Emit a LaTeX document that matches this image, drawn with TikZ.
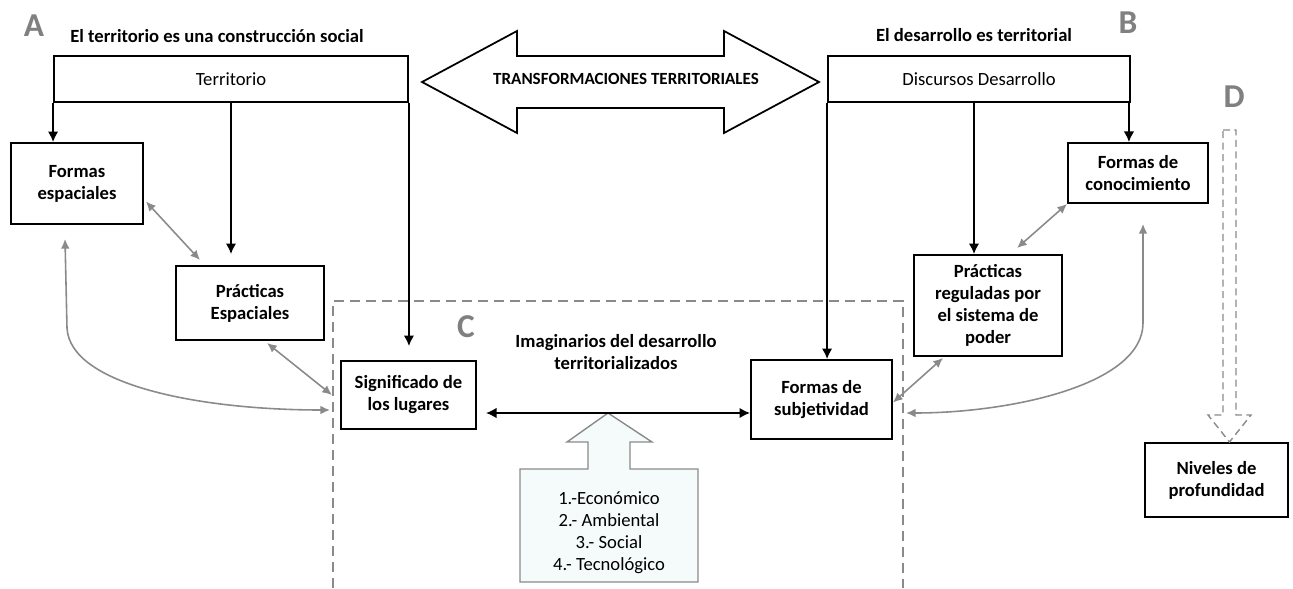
\documentclass[tikz,border=0pt]{standalone}
\usepackage{fontspec}
\setmainfont{Carlito}
\usetikzlibrary{arrows.meta}

\definecolor{arrgray}{HTML}{8A8A8A}
\definecolor{lettergray}{HTML}{808080}
\definecolor{listfill}{HTML}{F5FBFB}

\begin{document}
\begin{tikzpicture}[x=0.02cm, y=-0.02cm,
  box/.style={draw, line width=1.1pt, align=center, inner sep=0pt, font=\boxfont},
  plain/.style={align=center, inner sep=0pt, font=\boxfont},
  letter/.style={inner sep=0pt, text=lettergray, font=\fontsize{19}{19}\selectfont\bfseries},
  down/.style={-{Latex[length=6pt,width=6pt]}, line width=1pt},
  both/.style={{Latex[length=6pt,width=6pt]}-{Latex[length=6pt,width=6pt]}, line width=1pt},
  link/.style={{Latex[length=5.5pt,width=5pt]}-{Latex[length=5.5pt,width=5pt]}, draw=arrgray, line width=0.9pt},
  cbox/.style={draw=arrgray, line width=1.2pt, dash pattern=on 5.7pt off 3.4pt}]

  % Fonts used in the picture
  \def\boxfont{\fontsize{10.6}{12.5}\selectfont\bfseries}
  \def\regfont{\fontsize{10.6}{12.5}\selectfont}

  \useasboundingbox (0,0) rectangle (1293,588);

  % Panel C (dashed, open at the bottom)
  \draw[cbox] (333,588) -- (333,301) -- (903,301) -- (903,588);

  % Letters of the panels
  \node[letter] (letA) at (34,26) {A};
  \node[letter] (letB) at (1128,23) {B};
  \node[letter] (letC) at (466,327) {C};
  \node[letter] (letD) at (1234,97) {D};

  % Titles
  \node[plain] (titA) at (217,36) {El territorio es una construcción social};
  \node[plain] (titB) at (974,35) {El desarrollo es territorial};
  \node[plain] (titC) at (616,352) {Imaginarios del desarrollo\\territorializados};

  % Big double arrow between both sides
  \draw[line width=1pt, fill=white] (422,82) -- (517,31) -- (517,56) -- (724,56) -- (724,31)
    -- (819,82) -- (724,133) -- (724,108) -- (517,108) -- (517,133) -- cycle;
  \node[plain, font=\fontsize{9.7}{11}\selectfont\bfseries] (trans) at (626,79) {TRANSFORMACIONES TERRITORIALES};

  % Side A
  \node[box, font=\regfont, minimum width=7.08cm, minimum height=0.92cm] (terr) at (231,79) {Territorio};
  \node[box, minimum width=2.64cm, minimum height=1.62cm] (formesp) at (77,183.5) {Formas\\espaciales};
  \node[box, minimum width=2.96cm, minimum height=1.48cm] (pracesp) at (250,303) {Prácticas\\Espaciales};
  \node[box, minimum width=2.7cm, minimum height=1.36cm] (sig) at (408.5,395) {Significado de\\los lugares};

  % Side B
  \node[box, font=\regfont, minimum width=6.04cm, minimum height=0.92cm] (disc) at (979,79) {Discursos Desarrollo};
  \node[box, minimum width=2.8cm, minimum height=1.2cm] (formcon) at (1138,173) {Formas de\\conocimiento};
  \node[box, minimum width=2.96cm, minimum height=2.02cm] (pracreg) at (988,305.5) {Prácticas\\reguladas por\\el sistema de\\poder};
  \node[box, minimum width=2.82cm, minimum height=1.58cm] (subj) at (821.5,399.5) {Formas de\\subjetividad};

  % Side D
  \node[box, minimum width=2.86cm, minimum height=1.48cm] (niv) at (1216.5,480) {Niveles de\\profundidad};
  \draw[draw=arrgray, line width=0.8pt, dash pattern=on 4pt off 2.5pt]
    (1223,130) -- (1236,130) -- (1236,415) -- (1251,415) -- (1229.5,442) -- (1208,415) -- (1223,415) -- cycle;

  % Dimensions box with its arrow
  \draw[draw=arrgray, line width=0.8pt, fill=listfill] (520,582) -- (520,469) -- (588,469) -- (588,442)
    -- (567,442) -- (608,413) -- (652,442) -- (630,442) -- (630,469) -- (698,469) -- (698,582) -- cycle;
  \node[plain, font=\regfont] (lista) at (609,533) {1.-Económico\\2.- Ambiental\\3.- Social\\4.- Tecnológico};

  % Free ends on the dashed panel
  \coordinate (sigin) at (332,395);
  \coordinate (curvein) at (330,410);
  \coordinate (subjin) at (906,413);
  \coordinate (discmid) at (974,102);

  % Black connectors
  \draw[down] (terr.south west) -- (terr.south west |- formesp.north);
  \draw[down, shorten >=0.22cm] (terr.south) -- (terr.south |- pracesp.north);
  \draw[down, shorten >=0.28cm] (terr.south east) -- (terr.south east |- sig.north);
  \draw[down] (disc.south west) -- (disc.south west |- subj.north);
  \draw[down] (discmid) -- (discmid |- pracreg.north);
  \draw[down] ([shift={(-2,0)}]disc.south east) -- ([shift={(-2,0)}]disc.south east |- formcon.north);
  \draw[both] ([shift={(9,18)}]sig.east) -- ([shift={(0,13.5)}]subj.west);

  % Grey connectors
  \draw[link] ([shift={(2,18)}]formesp.east) -- ([shift={(-50,-5)}]pracesp.north);
  \draw[link] ([shift={(17,2)}]pracesp.south) -- (sigin);
  \draw[link] ([shift={(-12,14)}]formesp.south) -- (67,328) .. controls (70,385) and (200,410) .. (curvein);
  \draw[link] (formcon.south west) -- ([shift={(29,-6)}]pracreg.north);
  \draw[link] ([shift={(-45,1)}]pracreg.south) -- ([shift={(0,3)}]subj.east);
  \draw[link] ([shift={(5,20)}]formcon.south) -- (1143,323) .. controls (1143,385) and (1010,413) .. (subjin);

\end{tikzpicture}
\end{document}
